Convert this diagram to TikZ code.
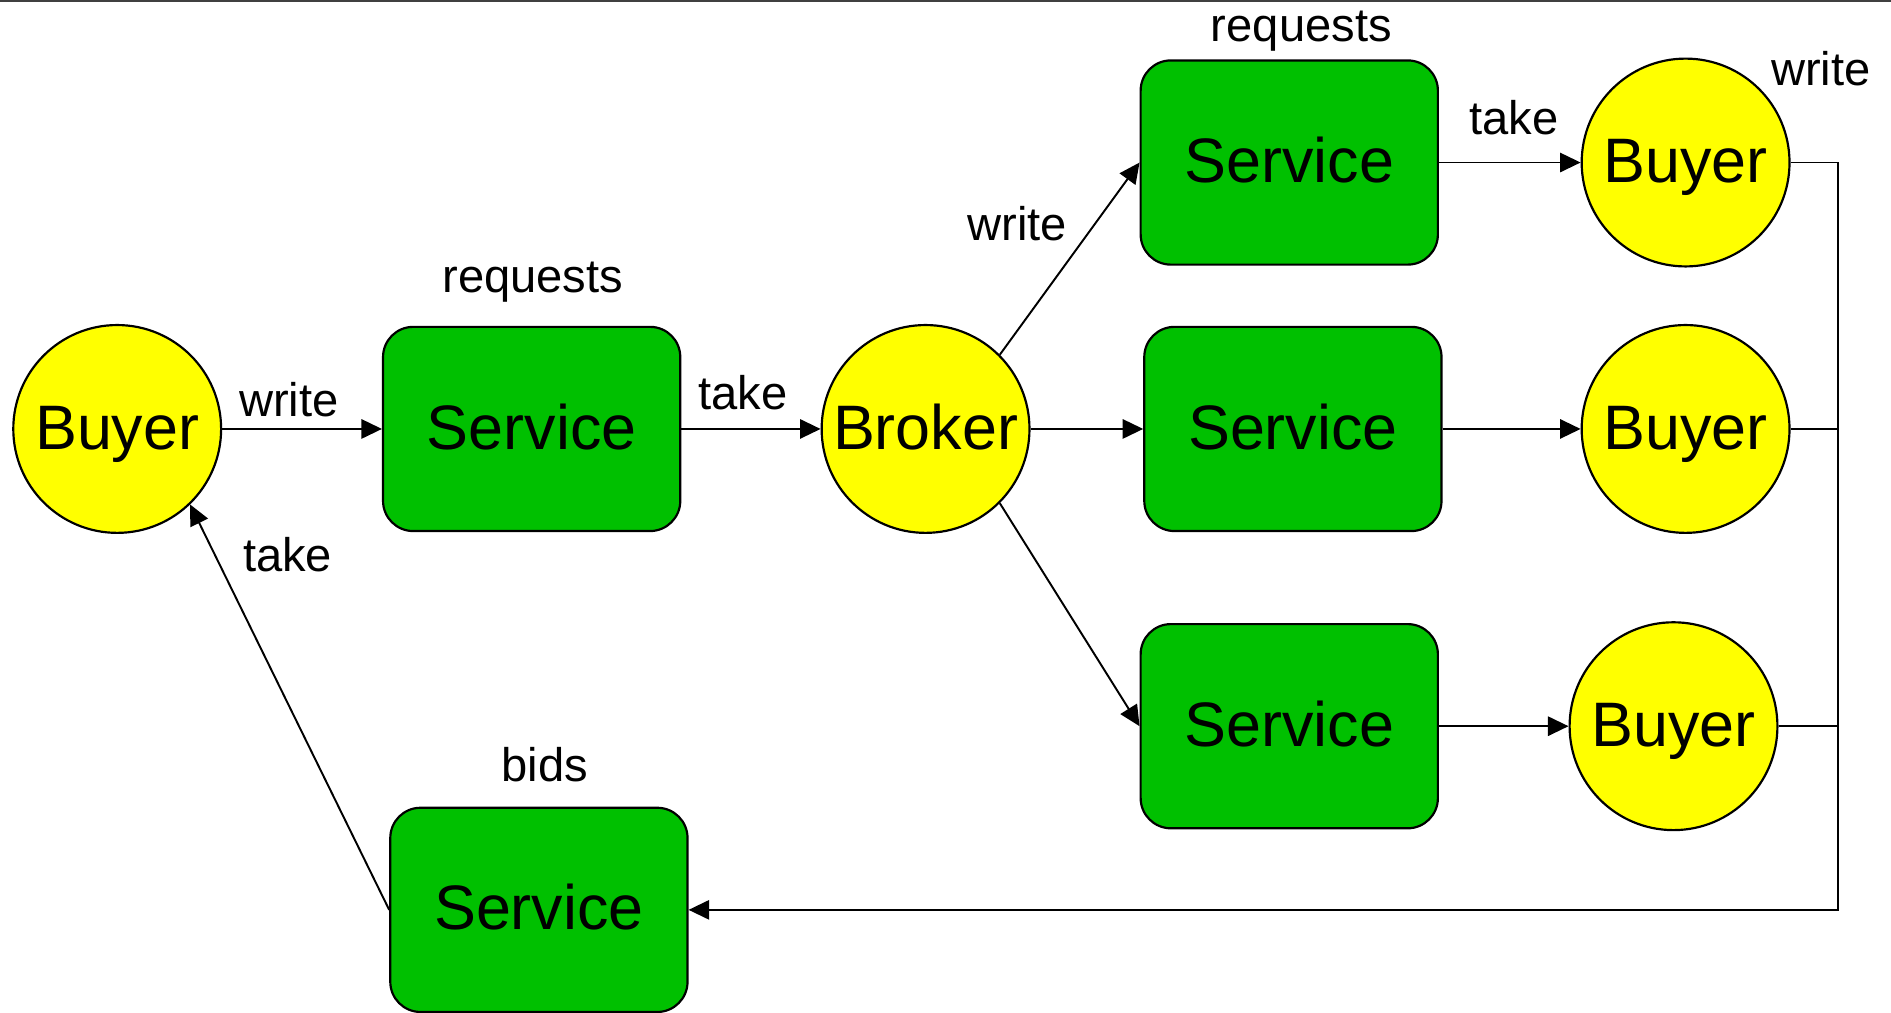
\documentclass[tikz,border=0pt]{standalone}
\usepackage{fontspec}
\setmainfont{Liberation Sans}
\usetikzlibrary{arrows.meta}
\definecolor{nodeyellow}{RGB}{255,255,0}
\definecolor{nodegreen}{RGB}{0,192,0}
\begin{document}
\begin{tikzpicture}[x=1pt,y=-1pt,
  agent/.style={circle, draw=black, line width=1.8pt, fill=nodeyellow, minimum size=172pt, inner sep=0pt,
    font=\fontsize{52}{60}\selectfont, text height=37.4pt, text depth=4.2pt},
  space/.style={rectangle, rounded corners=25pt, draw=black, line width=1.8pt, fill=nodegreen,
    minimum width=246pt, minimum height=169pt, inner sep=0pt,
    font=\fontsize{52}{60}\selectfont, text height=37.4pt, text depth=4.2pt},
  lbl/.style={inner sep=0pt, font=\fontsize{39}{45}\selectfont, text height=28pt, text depth=0pt},
  conn/.style={line width=1.6pt, -{Triangle[length=17pt,width=16pt]}},
  wire/.style={line width=1.6pt}
]
\useasboundingbox (0,0) rectangle (1565,838);
\draw[line width=1.5pt, black!75] (0,0.75) -- (1565,0.75);

% nodes
\node[agent] (b1) at (97,355) {Buyer};
\node[space] (s1) at (440,355) {Service};
\node[agent] (br) at (766,355) {Broker};
\node[space] (st) at (1067,134.5) {Service};
\node[space] (sm) at (1070,355) {Service};
\node[space] (sb) at (1067,601) {Service};
\node[agent] (bt) at (1395,134.5) {Buyer};
\node[agent] (bm) at (1395,355) {Buyer};
\node[agent] (bb) at (1385,601) {Buyer};
\node[space] (bids) at (446,753) {Service};

% labels
\node[lbl] (l1) at (441,228) {requests};
\node[lbl] (l2) at (1077,20) {requests};
\node[lbl] (l3) at (451,633) {bids};
\node[lbl] (l4) at (239,331) {write};
\node[lbl] (l5) at (615,325) {take};
\node[lbl] (l6) at (842,185) {write};
\node[lbl] (l7) at (1253,97) {take};
\node[lbl] (l8) at (1507,57) {write};
\node[lbl] (l9) at (238,459) {take};

% rail coordinates
\coordinate (railtop) at (1521,134.5);
\coordinate (railbot) at (1521,753);

% connectors
\draw[conn] (b1.east) -- (s1.west);
\draw[conn] (s1.east) -- (br.west);
\draw[conn] (br.45) -- (st.west);
\draw[conn] (br.east) -- (sm.west);
\draw[conn] (br.-45) -- (sb.west);
\draw[conn] (st.east) -- (bt.west);
\draw[conn] (sm.east) -- (bm.west);
\draw[conn] (sb.east) -- (bb.west);
\draw[wire] (bm.east) -- (bm.east -| railtop);
\draw[wire] (bb.east) -- (bb.east -| railtop);
\draw[conn] (bt.east) -- (railtop) -- (railbot) -- (bids.east);
\draw[conn] (bids.west) -- (b1.-46);
\end{tikzpicture}
\end{document}
